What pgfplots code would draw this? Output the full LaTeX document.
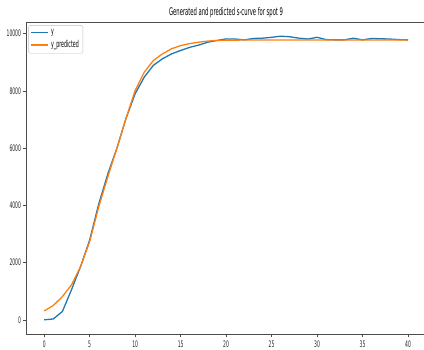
\documentclass[border=0pt]{standalone}
\usepackage{fontspec}
\setmainfont{DejaVu Sans}[FakeStretch=0.5]
\usepackage{pgfplots}
\pgfplotsset{compat=1.18}
\definecolor{mblue}{HTML}{1F77B4}
\definecolor{morange}{HTML}{FF7F0E}
\begin{document}
\begin{tikzpicture}[x=1pt,y=1pt]
\path (0,0) rectangle (424,350);
\begin{scope}[overlay]
\begin{axis}[
  at={(26pt,16pt)}, anchor=south west,
  scale only axis, width=400.2pt, height=312pt,
  xmin=-2, xmax=42, ymin=-495.5, ymax=10405.5,
  xtick={0,5,...,40}, ytick={0,2000,...,10000},
  xtick pos=lower, ytick pos=left,
  tick align=outside,
  major tick length=3.5pt,
  tick style={black!70, line width=0.6pt},
  axis line style={black!70, line width=0.6pt},
  scaled y ticks=false,
  /pgf/number format/1000 sep={},
  /pgf/number format/assume math mode=true,
  ticklabel style={font=\fontsize{9}{10}\selectfont, text=black!85},
  yticklabel style={xshift=2pt},
  title={Generated and predicted s-curve for spot 9},
  title style={font=\fontsize{10.5}{12}\selectfont, yshift=-5pt},
  legend style={at={(0.006,0.99)}, anchor=north west, draw=black!25, rounded corners=1.5pt,
    font=\fontsize{9.5}{10.5}\selectfont, fill=white, fill opacity=0.8, text opacity=1,
    row sep=0.5pt, inner sep=2pt},
  legend cell align=left,
  legend image post style={line width=1.5pt},
]
\addplot[mblue, line width=1.3pt] coordinates {
(0,0) (1,30) (2,290) (3,1050) (4,1860) (5,2790) (6,4050) (7,5100) (8,6000) (9,7040)
(10,7900) (11,8480) (12,8890) (13,9120) (14,9290) (15,9410) (16,9520) (17,9600) (18,9700) (19,9760)
(20,9815) (21,9810) (22,9780) (23,9830) (24,9840) (25,9870) (26,9910) (27,9890) (28,9840) (29,9810)
(30,9870) (31,9790) (32,9780) (33,9780) (34,9840) (35,9780) (36,9830) (37,9820) (38,9810) (39,9790) (40,9780)
};
\addlegendentry{y}
\addplot[morange, line width=1.3pt] coordinates {
(0,310) (1,500) (2,810) (3,1220) (4,1860) (5,2730) (6,3950) (7,5000) (8,6000) (9,7040)
(10,8010) (11,8650) (12,9060) (13,9290) (14,9470) (15,9580) (16,9650) (17,9700) (18,9740) (19,9760)
(20,9770) (21,9772) (22,9774) (23,9775) (24,9775) (25,9775) (26,9775) (27,9775) (28,9775) (29,9775)
(30,9775) (31,9775) (32,9775) (33,9775) (34,9775) (35,9775) (36,9775) (37,9775) (38,9775) (39,9775) (40,9775)
};
\addlegendentry{y\_predicted}
\end{axis}
\end{scope}
\end{tikzpicture}
\end{document}
